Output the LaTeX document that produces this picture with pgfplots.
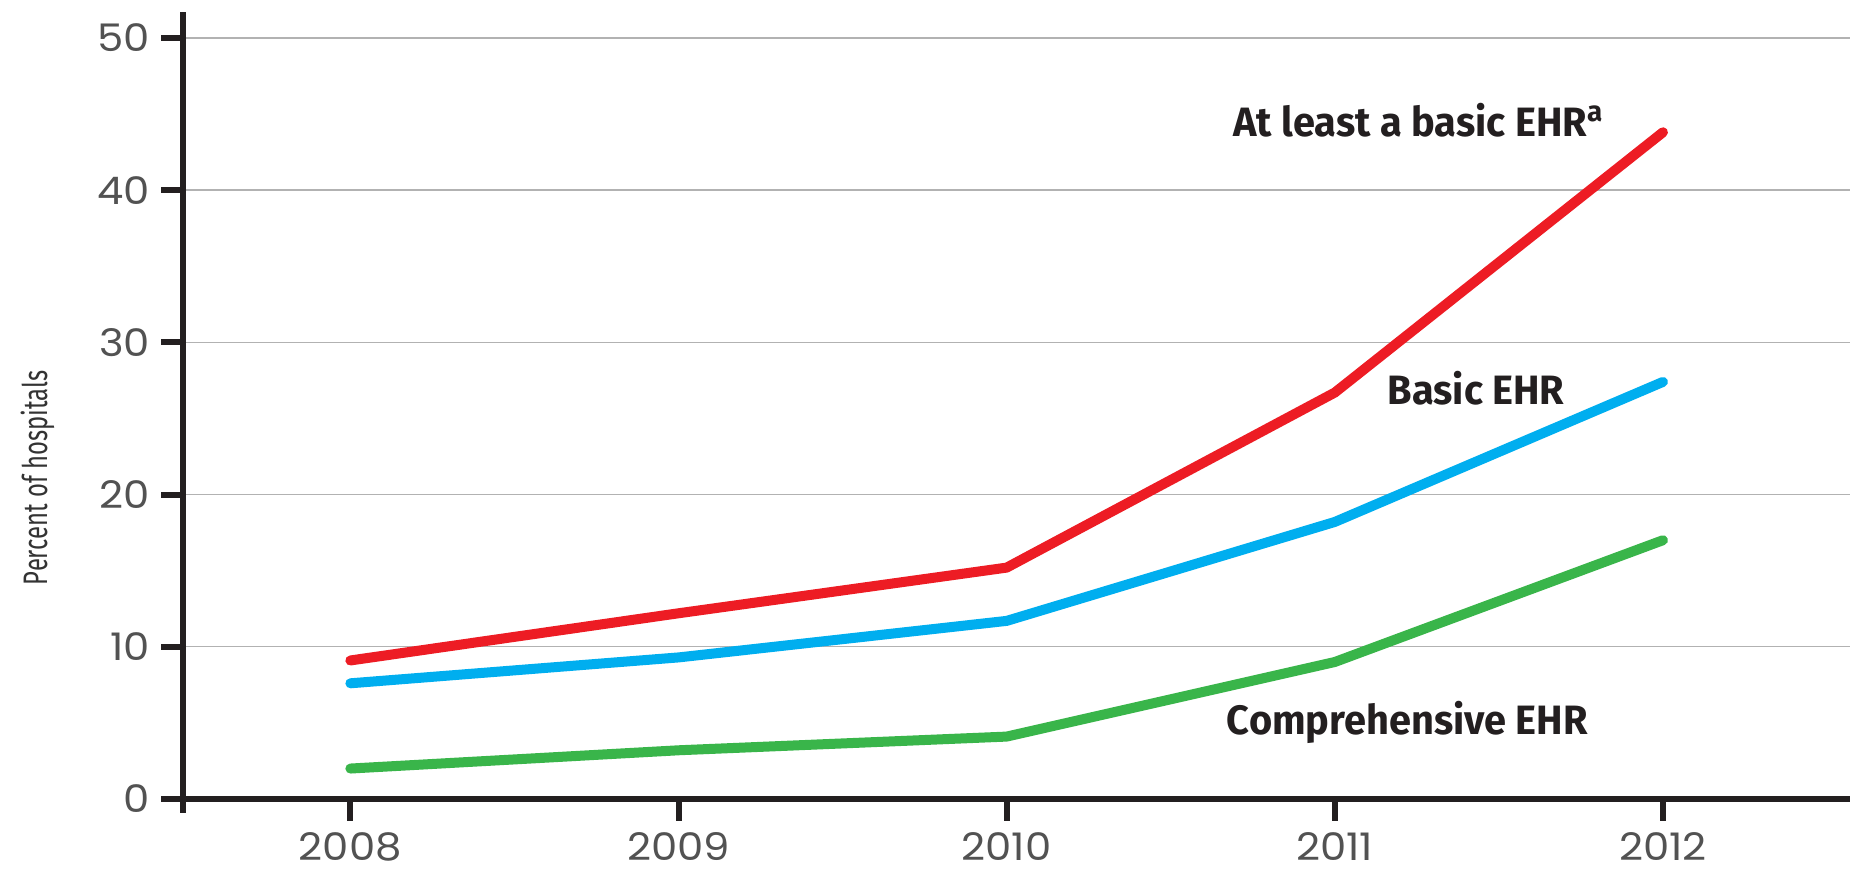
\documentclass[border=0pt]{standalone}
\usepackage{fontspec}
\setmainfont{Fira Sans}
\newfontfamily\tickfont{Poppins}[FakeStretch=1.1]
\newfontfamily\condfont{Fira Sans}[FakeStretch=0.7]
\newfontfamily\boldcond{Fira Sans}[FakeStretch=0.97]
\usepackage{pgfplots}
\pgfplotsset{compat=1.18}
\definecolor{cred}{HTML}{ED1C24}
\definecolor{cblue}{HTML}{00AEEF}
\definecolor{cgreen}{HTML}{39B54A}
\definecolor{axisblack}{HTML}{231F20}
\begin{document}
\begin{tikzpicture}
\useasboundingbox (-91.5pt,-36pt) rectangle (833.5pt,399.5pt);
\begin{axis}[
  at={(0,0)}, anchor=south west,
  scale only axis, width=833.5pt, height=393.5pt,
  xmin=2007.49, xmax=2012.57, ymin=0, ymax=51.7,
  axis x line*=bottom, axis y line*=left,
  axis line style={line width=3pt, axisblack},
  y axis line style={shorten <=-7pt},
  xtick={2008,2009,2010,2011,2012},
  xticklabels={2008,2009,2010,2011,2012},
  ytick={0,10,20,30,40,50},
  ymajorgrids,
  grid style={black!30, line width=0.7pt},
  tick align=outside,
  major tick length=11pt,
  tick style={line width=3pt, axisblack},
  /pgf/number format/assume math mode=true,
  ticklabel style={font=\tickfont\fontsize{19}{19}\selectfont, text=black!68},
  yticklabel style={xshift=-2pt},
  xticklabel style={yshift=-2pt},
  ylabel={Percent of hospitals},
  ylabel style={at={(rel axis cs:-0.087,0.408)}, anchor=center, font=\condfont\fontsize{17}{17}\selectfont, text=black!80},
  clip=false,
]
\addplot[cred, line width=5pt, line cap=round, line join=round] coordinates {
 (2008,9.1) (2009,12.2) (2010,15.2) (2011,26.7) (2012,43.8)};
\addplot[cblue, line width=5pt, line cap=round, line join=round] coordinates {
 (2008,7.6) (2009,9.3) (2010,11.7) (2011,18.2) (2012,27.4)};
\addplot[cgreen, line width=5pt, line cap=round, line join=round] coordinates {
 (2008,2.0) (2009,3.2) (2010,4.1) (2011,9.0) (2012,17.0)};
\node[anchor=west, inner sep=0pt, font=\boldcond\bfseries\fontsize{20.5}{20.5}\selectfont, text=axisblack] at (axis cs:2010.69,44.6) {At least a basic EHR\textsuperscript{a}};
\node[anchor=west, inner sep=0pt, font=\boldcond\bfseries\fontsize{20.5}{20.5}\selectfont, text=axisblack] at (axis cs:2011.16,27.0) {Basic EHR};
\node[anchor=west, inner sep=0pt, font=\boldcond\bfseries\fontsize{20.5}{20.5}\selectfont, text=axisblack] at (axis cs:2010.67,5.0) {Comprehensive EHR};
\end{axis}
\end{tikzpicture}
\end{document}
